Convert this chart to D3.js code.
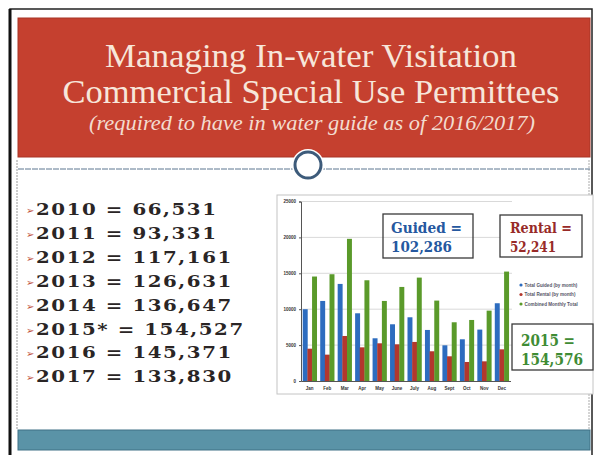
<!DOCTYPE html>
<html>
<head>
<meta charset="utf-8">
<script src="https://cdn.jsdelivr.net/npm/d3@7"></script>
<style>
  body { margin: 0; background: #fff; }
  svg { display: block; }
</style>
</head>
<body>
<svg width="600" height="455"></svg>
<script>
// monthly permittee visitation, 2015
const months = ["Jan", "Feb", "Mar", "Apr", "May", "June", "July", "Aug", "Sept", "Oct", "Nov", "Dec"];
const guided = [10000, 11150, 13520, 9430, 5950, 7900, 8875, 7110, 4970, 5810, 7160, 10830];
const rental = [4500, 3670, 6270, 4690, 5250, 5110, 5440, 4140, 3440, 2650, 2740, 4410];
const combined = [14550, 14870, 19800, 14030, 11150, 13100, 14400, 11200, 8180, 8500, 9800, 15240];
const seriesNames = ["Total Guided (by month)", "Total Rental (by month)", "Combined Monthly Total"];
const yTicks = [0, 5000, 10000, 15000, 20000, 25000];

// yearly totals list
const years = ["2010", "2011", "2012", "2013", "2014", "2015*", "2016", "2017"];
const totals = ["66,531", "93,331", "117,161", "126,631", "136,647", "154,527", "145,371", "133,830"];

const titleLines = ["Managing In-water Visitation", "Commercial Special Use Permittees"];
const subtitle = "(required to have in water guide as of 2016/2017)";

const svg = d3.select("svg");
const colors = ["#2d6cbf", "#b3372d", "#5a9a2a"];

// slide frame
svg.append("rect").attr("x", 10).attr("y", 9).attr("width", 582).attr("height", 450)
    .attr("fill", "none").attr("stroke", "#222").attr("stroke-width", 1.5);
svg.append("line").attr("x1", 10).attr("x2", 10).attr("y1", 9).attr("y2", 455)
    .attr("stroke", "#111").attr("stroke-width", 3);
svg.append("line").attr("x1", 17).attr("x2", 17).attr("y1", 160).attr("y2", 430)
    .attr("stroke", "#999").attr("stroke-dasharray", "2,1");
svg.append("line").attr("x1", 589).attr("x2", 589).attr("y1", 160).attr("y2", 430)
    .attr("stroke", "#aaa").attr("stroke-dasharray", "2,1");

// header
svg.append("rect").attr("x", 18).attr("y", 18).attr("width", 572).attr("height", 139)
    .attr("fill", "#c5402f");
svg.append("rect").attr("x", 18).attr("y", 18).attr("width", 572).attr("height", 139)
    .attr("fill", "none").attr("stroke", "#a83426").attr("stroke-width", 1);

const titleW = [412, 497];
svg.selectAll(".title").data(titleLines).join("text")
    .attr("class", "title")
    .attr("x", 311).attr("y", (d, i) => [67, 103][i])
    .attr("text-anchor", "middle")
    .attr("textLength", (d, i) => titleW[i])
    .attr("lengthAdjust", "spacingAndGlyphs")
    .style("font-family", "'Liberation Serif', serif")
    .style("font-size", "33px")
    .attr("fill", "#f7e6da")
    .text(d => d);

svg.append("text")
    .attr("x", 312).attr("y", 130)
    .attr("text-anchor", "middle")
    .attr("textLength", 446)
    .attr("lengthAdjust", "spacingAndGlyphs")
    .style("font-family", "'Liberation Serif', serif")
    .style("font-style", "italic")
    .style("font-size", "21px")
    .attr("fill", "#f3dcd0")
    .text(subtitle);

// divider with ring
svg.append("line").attr("x1", 18).attr("x2", 590).attr("y1", 169).attr("y2", 169)
    .attr("stroke", "#5d7790").attr("stroke-width", 1).attr("stroke-dasharray", "6,1");
svg.append("circle").attr("cx", 308).attr("cy", 165).attr("r", 16).attr("fill", "#fff");
svg.append("circle").attr("cx", 308).attr("cy", 165).attr("r", 13)
    .attr("fill", "#fff").attr("stroke", "#3d5b7a").attr("stroke-width", 3);

// footer bar
svg.append("rect").attr("x", 18).attr("y", 430).attr("width", 572).attr("height", 20)
    .attr("fill", "#5a93a7").attr("stroke", "#3f7185");

// list of yearly totals
const list = svg.append("g");
const rows = list.selectAll("g").data(years).join("g")
    .attr("transform", (d, i) => `translate(26,${215 + i * 23.9})`);
rows.append("text")
    .attr("y", -1)
    .style("font-family", "'DejaVu Sans', sans-serif")
    .style("font-size", "10px")
    .attr("fill", "#c0533c")
    .text("\u27A2");
rows.append("text")
    .attr("transform", "translate(10,0) scale(1.13,1)")
    .style("font-family", "'DejaVu Serif', serif")
    .style("font-weight", "bold")
    .style("font-size", "17.5px")
    .style("letter-spacing", "1.4px")
    .attr("fill", "#2a2525")
    .text((d, i) => `${d} = ${totals[i]}`);

// chart image frame
svg.append("rect").attr("x", 277).attr("y", 195).attr("width", 316).attr("height", 199)
    .attr("fill", "#fff").attr("stroke", "#c4c4c4");

const y = d3.scaleLinear().domain([0, 25000]).range([381, 201.5]);
const x0 = d3.scaleBand().domain(months).range([301, 510.5]).paddingInner(0.2).paddingOuter(0.1);
const x1 = d3.scaleBand().domain([0, 1, 2]).range([0, x0.bandwidth()]);

svg.append("g").selectAll("line").data(yTicks.slice(1)).join("line")
    .attr("x1", 301).attr("x2", 512)
    .attr("y1", d => y(d)).attr("y2", d => y(d))
    .attr("stroke", "#cfcfcf").attr("stroke-width", 0.8);

const series = [guided, rental, combined];
const groups = svg.append("g").selectAll("g").data(months).join("g")
    .attr("transform", d => `translate(${x0(d)},0)`);
groups.selectAll("rect").data((m, i) => series.map((s, k) => ({ k, v: s[i] }))).join("rect")
    .attr("x", d => x1(d.k))
    .attr("width", x1.bandwidth() + 0.3)
    .attr("y", d => y(d.v))
    .attr("height", d => y(0) - y(d.v))
    .attr("fill", d => colors[d.k]);

const yAxis = svg.append("g")
    .attr("transform", "translate(301,0)")
    .call(d3.axisLeft(y).tickValues(yTicks).tickSize(2).tickFormat(d3.format("d")));
yAxis.selectAll("text").style("font-family", "Arial, sans-serif").style("font-size", "4.5px")
    .style("font-weight", "bold").attr("fill", "#333");
yAxis.selectAll("line, path").attr("stroke", "#555");

const xAxis = svg.append("g")
    .attr("transform", "translate(0,381)")
    .call(d3.axisBottom(x0).tickSize(0).tickPadding(6));
xAxis.selectAll("text").style("font-family", "Arial, sans-serif").style("font-size", "4.5px")
    .style("font-weight", "bold").attr("fill", "#333");
xAxis.selectAll("path").attr("stroke", "#555");

// legend
const legend = svg.append("g").selectAll("g").data(seriesNames).join("g")
    .attr("transform", (d, i) => `translate(521,${285 + i * 9.5})`);
legend.append("circle").attr("r", 1.6).attr("fill", (d, i) => colors[i]);
legend.append("text").attr("x", 3.5).attr("y", 1.6)
    .style("font-family", "Arial, sans-serif").style("font-size", "4.6px")
    .style("font-weight", "bold").attr("fill", "#556")
    .text(d => d);

// summary boxes
const boxes = [
    { x: 383, y: 214, w: 90, h: 44, tx: 391, ty: [233, 252], tw: [71, 61], lines: ["Guided =", "102,286"], c: "#25589f", fs: 15.5, fill: "none" },
    { x: 500, y: 215, w: 82, h: 42, tx: 510, ty: [233, 252], tw: [62, 46], lines: ["Rental =", "52,241"], c: "#982a28", fs: 15.5, fill: "#fff" },
    { x: 512, y: 324, w: 81, h: 46, tx: 521, ty: [346, 365], tw: [54, 62], lines: ["2015 =", "154,576"], c: "#3f8c35", fs: 16, fill: "#fff" }
];
const bx = svg.append("g").selectAll("g").data(boxes).join("g");
bx.append("rect")
    .attr("x", d => d.x).attr("y", d => d.y).attr("width", d => d.w).attr("height", d => d.h)
    .attr("fill", d => d.fill).attr("stroke", "#3a3a3a").attr("stroke-width", 1.3);
bx.selectAll("text").data(d => d.lines.map((t, i) => ({ t, i, d }))).join("text")
    .attr("x", e => e.d.tx)
    .attr("y", e => e.d.ty[e.i])
    .attr("textLength", e => e.d.tw[e.i])
    .attr("lengthAdjust", "spacingAndGlyphs")
    .style("font-family", "'DejaVu Serif', serif")
    .style("font-weight", "bold")
    .style("font-size", e => e.d.fs + "px")
    .attr("fill", e => e.d.c)
    .text(e => e.t);
</script>
</body>
</html>
